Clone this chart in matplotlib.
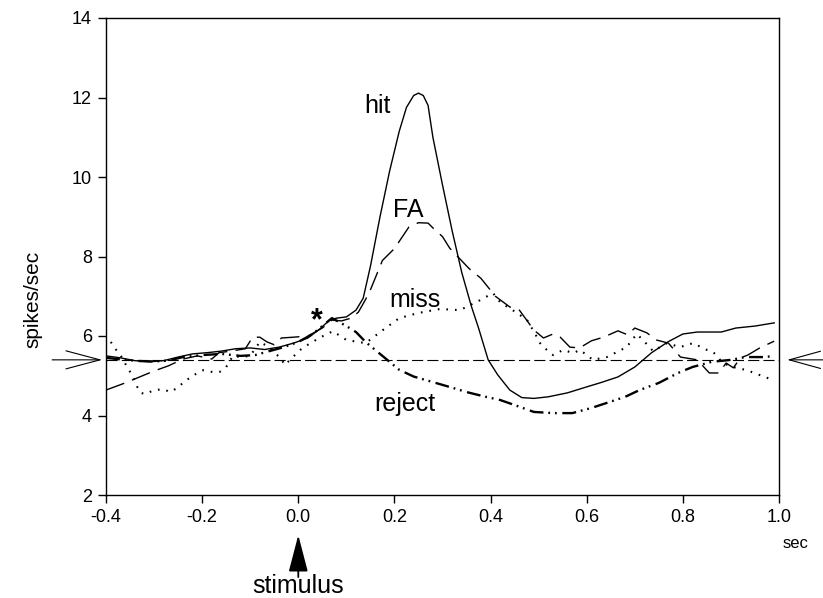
import matplotlib
matplotlib.use("Agg")
import matplotlib.pyplot as plt
import matplotlib.transforms as mtransforms

plt.rcParams['font.family'] = ['Liberation Sans', 'DejaVu Sans']
plt.rcParams['lines.scale_dashes'] = False

# ---------------- data ----------------
hit_x = [-0.40, -0.37, -0.34, -0.31, -0.28, -0.25, -0.22, -0.19, -0.16, -0.13, -0.10, -0.07,
         -0.04, -0.01, 0.02, 0.045, 0.065, 0.08, 0.10, 0.12, 0.135, 0.15, 0.17, 0.19, 0.21,
         0.225, 0.24, 0.25, 0.26, 0.27, 0.28, 0.30, 0.32, 0.34, 0.36, 0.375, 0.395, 0.415,
         0.44, 0.465, 0.49, 0.52, 0.56, 0.60, 0.63, 0.665, 0.70, 0.735, 0.77, 0.80, 0.83,
         0.88, 0.91, 0.95, 0.99]
hit_y = [5.50, 5.45, 5.38, 5.35, 5.38, 5.47, 5.55, 5.58, 5.62, 5.68, 5.70, 5.66,
         5.72, 5.82, 5.95, 6.18, 6.40, 6.45, 6.48, 6.65, 6.95, 7.75, 9.00, 10.15, 11.15,
         11.75, 12.05, 12.11, 12.05, 11.80, 11.00, 9.80, 8.65, 7.60, 6.75, 6.20, 5.40, 5.02,
         4.64, 4.45, 4.43, 4.47, 4.57, 4.72, 4.83, 4.97, 5.22, 5.58, 5.86, 6.05, 6.10,
         6.10, 6.20, 6.25, 6.33]

fa_x = [-0.40, -0.36, -0.33, -0.30, -0.27, -0.24, -0.21, -0.18, -0.165, -0.14, -0.11, -0.095,
        -0.08, -0.065, -0.05, -0.035, -0.01, 0.02, 0.05, 0.07, 0.09, 0.11, 0.125, 0.14, 0.15,
        0.175, 0.20, 0.23, 0.25, 0.27, 0.28, 0.30, 0.315, 0.355, 0.38, 0.41, 0.44, 0.46,
        0.475, 0.49, 0.51, 0.53, 0.545, 0.565, 0.585, 0.61, 0.635, 0.665, 0.685, 0.70,
        0.725, 0.745, 0.77, 0.795, 0.83, 0.855, 0.875, 0.89, 0.905, 0.92, 0.935, 0.96, 0.99]
fa_y = [4.64, 4.82, 4.97, 5.12, 5.25, 5.42, 5.50, 5.42, 5.58, 5.62, 5.68, 5.97,
        5.97, 5.85, 5.78, 5.95, 5.97, 6.00, 6.20, 6.40, 6.38, 6.45, 6.60, 6.92, 7.16,
        7.90, 8.20, 8.74, 8.85, 8.84, 8.72, 8.50, 8.21, 7.70, 7.45, 7.00, 6.73, 6.65,
        6.40, 6.15, 5.95, 6.05, 5.97, 5.72, 5.70, 5.88, 5.97, 6.13, 6.03, 6.20,
        6.08, 5.90, 5.82, 5.47, 5.40, 5.07, 5.07, 5.32, 5.20, 5.45, 5.52, 5.70, 5.87]

miss_x = [-0.39, -0.38, -0.37, -0.355, -0.345, -0.335, -0.328, -0.318, -0.30, -0.28, -0.267,
          -0.252, -0.24, -0.22, -0.198, -0.177, -0.163, -0.15, -0.136, -0.12, -0.10, -0.08,
          -0.065, -0.05, -0.038, -0.028, -0.013, 0.004, 0.02, 0.045, 0.072, 0.10, 0.14, 0.176,
          0.21, 0.25, 0.295, 0.336, 0.378, 0.405, 0.42, 0.455, 0.476, 0.492, 0.503, 0.517,
          0.53, 0.551, 0.572, 0.586, 0.613, 0.642, 0.683, 0.704, 0.717, 0.738, 0.767, 0.794,
          0.821, 0.85, 0.863, 0.883, 0.904, 0.933, 0.988]
miss_y = [5.85, 5.67, 5.52, 5.20, 5.00, 4.72, 4.57, 4.54, 4.64, 4.66, 4.59,
          4.69, 4.82, 5.00, 5.14, 5.09, 5.10, 5.22, 5.50, 5.47, 5.50, 5.85,
          5.75, 5.57, 5.47, 5.27, 5.45, 5.65, 5.78, 5.96, 6.12, 5.90, 5.82, 6.15,
          6.45, 6.58, 6.68, 6.65, 6.90, 7.08, 6.85, 6.58, 6.40, 6.07, 5.82, 5.65,
          5.52, 5.65, 5.57, 5.65, 5.40, 5.47, 5.72, 6.05, 5.90, 5.62, 5.82, 5.72,
          5.82, 5.65, 5.60, 5.32, 5.22, 5.14, 4.89]

rej_x = [-0.40, -0.36, -0.33, -0.30, -0.27, -0.24, -0.20, -0.16, -0.12, -0.09, -0.06, -0.03,
         0.0, 0.03, 0.055, 0.07, 0.085, 0.10, 0.12, 0.14, 0.16, 0.18, 0.21, 0.24, 0.28, 0.32,
         0.35, 0.39, 0.42, 0.46, 0.49, 0.53, 0.57, 0.61, 0.64, 0.68, 0.71, 0.75, 0.79, 0.82,
         0.86, 0.90, 0.93, 0.97, 0.99]
rej_y = [5.45, 5.40, 5.37, 5.36, 5.38, 5.47, 5.52, 5.55, 5.50, 5.52, 5.62, 5.72,
         5.85, 6.05, 6.30, 6.45, 6.35, 6.25, 6.10, 5.85, 5.65, 5.45, 5.15, 4.98, 4.84, 4.70,
         4.59, 4.47, 4.39, 4.22, 4.09, 4.06, 4.06, 4.19, 4.31, 4.47, 4.64, 4.82, 5.07, 5.22,
         5.35, 5.40, 5.47, 5.47, 5.50]

baseline = 5.4
x_ticks = [-0.4, -0.2, 0.0, 0.2, 0.4, 0.6, 0.8, 1.0]
x_ticklabels = ['-0.4', '-0.2', '0.0', '0.2', '0.4', '0.6', '0.8', '1.0']
y_ticks = [2, 4, 6, 8, 10, 12, 14]

# ---------------- figure ----------------
fig = plt.figure(figsize=(8.23, 5.98), dpi=100)
ax = fig.add_axes([106 / 823, 1 - 495 / 598, 673 / 823, 477 / 598])

ax.plot(hit_x, hit_y, color='black', lw=1.0, ls='-')
ax.plot(fa_x, fa_y, color='black', lw=1.0, ls=(0, (14, 6)))
ax.plot(miss_x, miss_y, color='black', lw=1.5, ls=(0, (1.2, 5.0)))
ax.plot(rej_x, rej_y, color='black', lw=1.7, ls=(0, (10, 3.5, 1.3, 3.5, 1.3, 4)))
ax.axhline(baseline, color='black', lw=0.8, ls=(0, (8, 3)))

ax.set_xlim(-0.4, 1.0)
ax.set_ylim(2, 14)
ax.set_xticks(x_ticks)
ax.set_xticklabels(x_ticklabels)
ax.set_yticks(y_ticks)
ax.tick_params(direction='out', length=6, width=1, labelsize=13, pad=4, colors='black')
for s in ax.spines.values():
    s.set_linewidth(1.0)
    s.set_color('black')

ax.set_ylabel('spikes/sec', fontsize=15)
ax.yaxis.set_label_coords(-0.095, 0.409)

# curve labels
ax.text(0.164, 11.61, 'hit', fontsize=18, ha='center', va='baseline')
ax.text(0.228, 8.99, 'FA', fontsize=18, ha='center', va='baseline')
ax.text(0.243, 6.73, 'miss', fontsize=18, ha='center', va='baseline')
ax.text(0.222, 4.11, 'reject', fontsize=18, ha='center', va='baseline')
ax.text(0.039, 6.18, '*', fontsize=22, fontweight='bold', ha='center', va='baseline')

# baseline arrows outside the axes
ax.annotate('', xy=(-0.408, baseline), xytext=(-0.512, baseline),
            arrowprops=dict(arrowstyle='->,head_length=2.45,head_width=0.65',
                            mutation_scale=10, lw=0.8, color='black',
                            shrinkA=0, shrinkB=0),
            annotation_clip=False)
ax.annotate('', xy=(1.017, baseline), xytext=(1.095, baseline),
            arrowprops=dict(arrowstyle='->,head_length=2.25,head_width=0.62',
                            mutation_scale=10, lw=0.8, color='black',
                            shrinkA=0, shrinkB=0),
            annotation_clip=False)

# stimulus arrow & label
trans = mtransforms.blended_transform_factory(ax.transData, ax.transAxes)
ax.annotate('', xy=(0.0, -0.084), xycoords=trans, xytext=(0.0, -0.172), textcoords=trans,
            arrowprops=dict(arrowstyle='-|>,head_length=2.3,head_width=0.6',
                            mutation_scale=10, lw=1.3, color='black',
                            shrinkA=0, shrinkB=0),
            annotation_clip=False)
ax.text(0.0, -0.205, 'stimulus', transform=trans, fontsize=18, ha='center', va='baseline')
ax.text(1.035, -0.111, 'sec', transform=trans, fontsize=12, ha='center', va='baseline')

fig.savefig('out.png', dpi=100)
